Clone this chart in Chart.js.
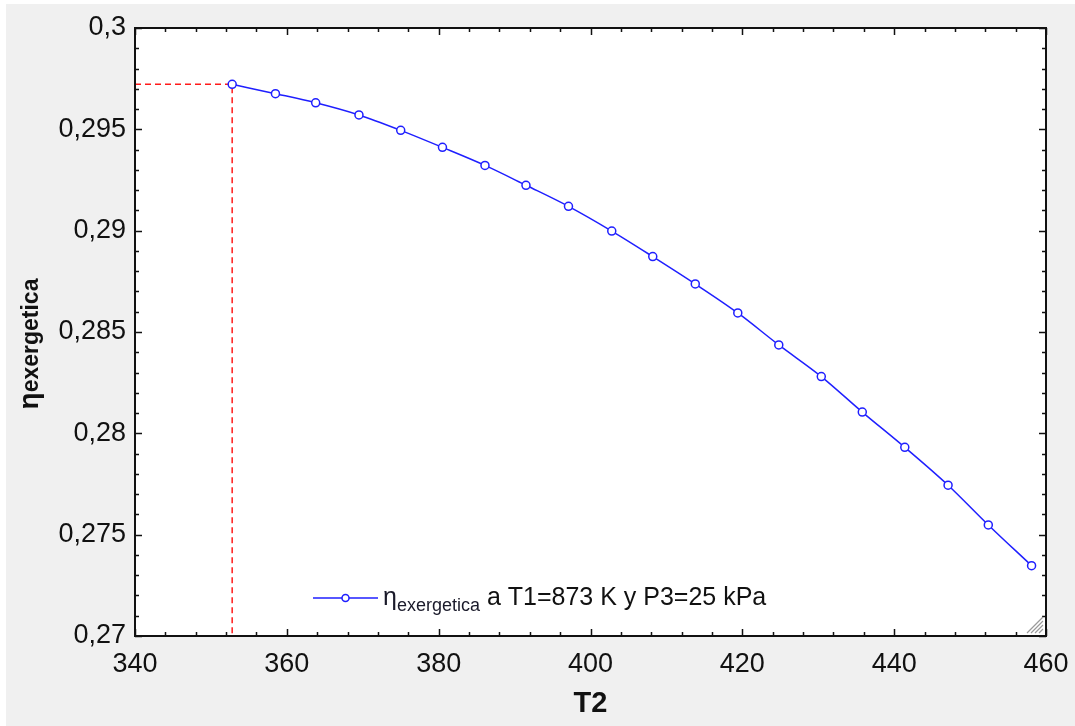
<!DOCTYPE html>
<html>
<head>
<meta charset="utf-8">
<script src="https://cdn.jsdelivr.net/npm/chart.js@4.4.1/dist/chart.umd.min.js"></script>
<style>
  html, body { margin: 0; padding: 0; background: #ffffff; }
  canvas { display: block; }
</style>
</head>
<body>
<canvas id="chart" width="1075" height="726"></canvas>
<script>
// T2 values (K) and exergetic efficiency
const T2 = [352.8, 358.5, 363.8, 369.5, 375.0, 380.5, 386.1, 391.5, 397.1, 402.8,
            408.2, 413.8, 419.4, 424.8, 430.4, 435.8, 441.4, 447.1, 452.4, 458.1];
const ETA = [0.29722, 0.29676, 0.29631, 0.29571, 0.29495, 0.29411, 0.29322, 0.29224, 0.29120, 0.28998,
             0.28872, 0.28737, 0.28594, 0.28436, 0.28280, 0.28105, 0.27931, 0.27744, 0.27548, 0.27347];

const X_MIN = 340, X_MAX = 460, X_STEP = 20, X_MINOR = 4;
const Y_MIN = 0.27, Y_MAX = 0.30, Y_STEP = 0.005, Y_MINOR = 0.001;

const LEGEND_SYMBOL = 'η';
const LEGEND_SUB = 'exergetica';
const LEGEND_REST = ' a T1=873 K y P3=25 kPa';
const X_TITLE = 'T2';

const FONT = '"Liberation Sans", Arial, sans-serif';
const BLUE = '#1f1fff';
const RED = '#ff1a1a';

const points = T2.map((x, i) => ({ x, y: ETA[i] }));
// guide lines from the axes to the first point
const guide = [
    { x: X_MIN, y: ETA[0] },
    { x: T2[0], y: ETA[0] },
    { x: T2[0], y: Y_MIN }
];

const comma = v => String(+Number(v).toFixed(3)).replace('.', ',');

const decorPlugin = {
    id: 'decor',
    beforeDraw(chart) {
        const ctx = chart.ctx;
        ctx.save();
        ctx.fillStyle = '#ffffff';
        ctx.fillRect(0, 0, chart.width, chart.height);
        ctx.fillStyle = '#f0f0f0';
        ctx.fillRect(6, 4, chart.width - 6, chart.height - 4);
        const a = chart.chartArea;
        ctx.fillStyle = '#ffffff';
        ctx.fillRect(a.left, a.top, a.right - a.left, a.bottom - a.top);
        ctx.restore();
    },
    afterDraw(chart) {
        const ctx = chart.ctx;
        const a = chart.chartArea;
        const xs = chart.scales.x, ys = chart.scales.y;
        ctx.save();

        // inward ticks on all four sides
        ctx.strokeStyle = '#111';
        ctx.lineWidth = 1.5;
        ctx.beginPath();
        for (let v = X_MIN; v <= X_MAX + 1e-9; v += X_MINOR) {
            const px = Math.round(xs.getPixelForValue(v)) + 0.5;
            const len = Math.abs((v - X_MIN) % X_STEP) < 1e-6 ? 7 : 4;
            ctx.moveTo(px, a.bottom); ctx.lineTo(px, a.bottom - len);
            ctx.moveTo(px, a.top); ctx.lineTo(px, a.top + len);
        }
        for (let k = 0; k <= Math.round((Y_MAX - Y_MIN) / Y_MINOR); k++) {
            const v = Y_MIN + k * Y_MINOR;
            const py = Math.round(ys.getPixelForValue(v)) + 0.5;
            const len = k % 5 === 0 ? 7 : 4;
            ctx.moveTo(a.left, py); ctx.lineTo(a.left + len, py);
            ctx.moveTo(a.right, py); ctx.lineTo(a.right - len, py);
        }
        ctx.stroke();

        // frame
        ctx.lineWidth = 2;
        ctx.strokeStyle = '#111';
        ctx.strokeRect(a.left, a.top, a.right - a.left, a.bottom - a.top);

        // resize grip
        ctx.strokeStyle = '#9a9a9a';
        ctx.lineWidth = 1.2;
        ctx.beginPath();
        for (let i = 0; i < 4; i++) {
            const o = 4 + i * 4;
            ctx.moveTo(a.right - 3, a.bottom - 3 - o);
            ctx.lineTo(a.right - 3 - o, a.bottom - 3);
        }
        ctx.stroke();

        // legend
        const ly = 598;
        const lx0 = 313, lx1 = 378;
        ctx.strokeStyle = BLUE;
        ctx.lineWidth = 1.5;
        ctx.beginPath();
        ctx.moveTo(lx0, ly); ctx.lineTo(lx1, ly);
        ctx.stroke();
        ctx.beginPath();
        ctx.arc((lx0 + lx1) / 2, ly, 3.5, 0, Math.PI * 2);
        ctx.fillStyle = '#fff';
        ctx.fill();
        ctx.stroke();

        ctx.textBaseline = 'alphabetic';
        ctx.textAlign = 'left';
        let tx = 383;
        ctx.fillStyle = '#1a1a2a';
        ctx.font = '25px ' + FONT;
        ctx.fillText(LEGEND_SYMBOL, tx, 605);
        tx += ctx.measureText(LEGEND_SYMBOL).width;
        ctx.font = '18px ' + FONT;
        ctx.fillText(LEGEND_SUB, tx, 611);
        tx += ctx.measureText(LEGEND_SUB).width;
        ctx.fillStyle = '#111';
        ctx.font = '25px ' + FONT;
        ctx.fillText(LEGEND_REST, tx, 605);

        // x title
        ctx.font = 'bold 29px ' + FONT;
        ctx.textAlign = 'center';
        ctx.fillStyle = '#111';
        ctx.fillText(X_TITLE, (a.left + a.right) / 2, 712);

        // y title, rotated
        ctx.translate(38, 344);
        ctx.rotate(-Math.PI / 2);
        ctx.textAlign = 'left';
        ctx.font = 'bold 28px ' + FONT;
        const w1 = ctx.measureText(LEGEND_SYMBOL).width;
        ctx.font = 'bold 23px ' + FONT;
        const w2 = ctx.measureText(LEGEND_SUB).width;
        let sx = -(w1 + w2) / 2;
        ctx.font = 'bold 28px ' + FONT;
        ctx.fillText(LEGEND_SYMBOL, sx, 0);
        ctx.font = 'bold 23px ' + FONT;
        ctx.fillText(LEGEND_SUB, sx + w1, 0);

        ctx.restore();
    }
};

new Chart(document.getElementById('chart'), {
    type: 'scatter',
    data: {
        datasets: [
            {
                data: points,
                showLine: true,
                borderColor: BLUE,
                borderWidth: 1.5,
                backgroundColor: '#ffffff',
                pointBorderColor: BLUE,
                pointBackgroundColor: '#ffffff',
                pointBorderWidth: 1.5,
                pointRadius: 4,
                cubicInterpolationMode: 'monotone'
            },
            {
                data: guide,
                showLine: true,
                borderColor: RED,
                borderWidth: 1.5,
                borderDash: [6, 4],
                pointRadius: 0
            }
        ]
    },
    options: {
        responsive: false,
        animation: false,
        events: [],
        layout: { padding: { left: 0, top: 28, right: 29, bottom: 0 } },
        plugins: { legend: { display: false }, tooltip: { enabled: false } },
        scales: {
            x: {
                type: 'linear',
                min: X_MIN,
                max: X_MAX,
                grid: { display: false, drawTicks: false },
                border: { display: false },
                ticks: {
                    stepSize: X_STEP,
                    padding: 12,
                    color: '#111',
                    font: { family: FONT, size: 27 },
                    maxRotation: 0,
                    callback: v => String(v)
                },
                afterFit: s => {
                    s.height = 90;
                    s.paddingLeft = 0;
                    s.paddingRight = 0;
                }
            },
            y: {
                type: 'linear',
                min: Y_MIN,
                max: Y_MAX,
                grid: { display: false, drawTicks: false },
                border: { display: false },
                ticks: {
                    stepSize: Y_STEP,
                    padding: 9,
                    color: '#111',
                    font: { family: FONT, size: 27 },
                    callback: v => comma(v)
                },
                afterFit: s => { s.width = 135; }
            }
        }
    },
    plugins: [decorPlugin]
});
</script>
</body>
</html>
